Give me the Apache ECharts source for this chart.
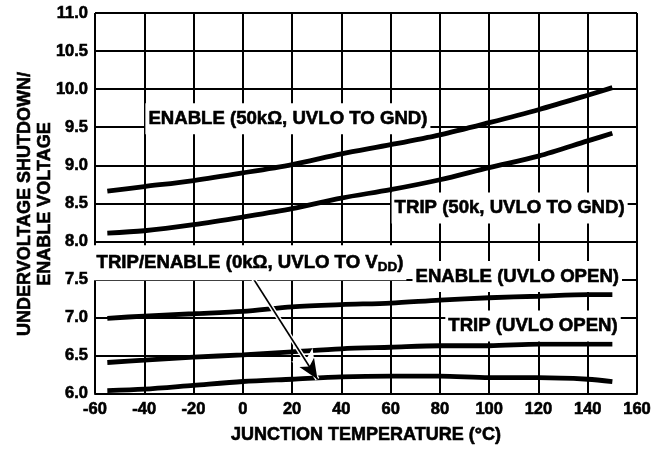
<!DOCTYPE html>
<html>
<head>
<meta charset="utf-8">
<script src="https://cdn.jsdelivr.net/npm/echarts@6/dist/echarts.min.js"></script>
<style>html,body{margin:0;padding:0;background:#fff;}#c{width:667px;height:449px;}</style>
</head>
<body>
<div id="c"></div>
<script>
// Data
var temps = [-55, -40, -20, 0, 20, 40, 60, 80, 100, 120, 140, 150];
var enable50k = [8.66, 8.72, 8.80, 8.90, 9.01, 9.15, 9.27, 9.40, 9.56, 9.73, 9.92, 10.02];
var trip50k = [8.11, 8.14, 8.22, 8.32, 8.43, 8.57, 8.68, 8.81, 8.97, 9.12, 9.32, 9.42];
var enableOpen = [6.99, 7.02, 7.05, 7.08, 7.14, 7.17, 7.19, 7.23, 7.26, 7.28, 7.30, 7.30];
var tripOpen = [6.41, 6.44, 6.48, 6.51, 6.55, 6.59, 6.61, 6.63, 6.63, 6.65, 6.65, 6.65];
var tripEnable0k = [6.04, 6.06, 6.11, 6.16, 6.19, 6.22, 6.23, 6.23, 6.21, 6.21, 6.19, 6.16];

var seriesNames = ['ENABLE (50kΩ, UVLO TO GND)', 'TRIP (50k, UVLO TO GND)', 'ENABLE (UVLO OPEN)', 'TRIP (UVLO OPEN)', 'TRIP/ENABLE (0kΩ, UVLO TO V{sub|DD})'];
var seriesValues = [enable50k, trip50k, enableOpen, tripOpen, tripEnable0k];
// label anchor points (data coordinates)
var labelAnchors = [[18.3, 9.61], [108.3, 8.44], [111.4, 7.54], [117.8, 6.89], [2.9, 7.72]];
var arrowFrom = [4.1, 7.52];
var arrowTo = [30.3, 6.19];

var xTitle = 'JUNCTION TEMPERATURE (°C)';
var yTitle = 'UNDERVOLTAGE SHUTDOWN/\nENABLE VOLTAGE';

var FONT = '"Liberation Sans", Arial, sans-serif';

function pairs(vals) {
  return temps.map(function (t, i) { return [t, vals[i]]; });
}

var series = seriesValues.map(function (vals, i) {
  var s = {
    type: 'line',
    name: seriesNames[i],
    data: pairs(vals),
    showSymbol: false,
    smooth: 0.3,
    lineStyle: { color: '#000', width: 4.8 },
    z: 3,
    markPoint: {
      symbol: 'rect',
      symbolSize: 0,
      silent: true,
      label: {
        show: true,
        position: 'inside',
        formatter: seriesNames[i],
        color: '#000',
        fontFamily: FONT,
        fontWeight: 'bold',
        fontSize: 18.6,
        textBorderColor: '#000', textBorderWidth: 0.6,
        backgroundColor: '#fff',
        padding: [6, 3, 6, 3],
        rich: {
          sub: { fontFamily: FONT, fontWeight: 'bold', fontSize: 13.5, padding: [9, 0, 0, 0], color: '#000',
            textBorderColor: '#000', textBorderWidth: 0.5 }
        }
      },
      data: [{ coord: labelAnchors[i] }]
    }
  };
  if (i === 4) {
    s.markLine = {
      silent: true,
      symbol: ['none', 'arrow'],
      symbolSize: [14, 22],
      label: { show: false },
      animation: false,
      data: [
        [{ coord: arrowFrom, lineStyle: { color: '#fff', width: 4.5, type: 'solid' } },
         { coord: arrowTo, symbolSize: [19, 27], symbolOffset: [0, 2] }],
        [{ coord: arrowFrom, lineStyle: { color: '#000', width: 1.6, type: 'solid' } },
         { coord: arrowTo, symbolSize: [13, 20] }]
      ]
    };
  }
  return s;
});

var chart = echarts.init(document.getElementById('c'), null, { renderer: 'canvas' });
chart.setOption({
  animation: false,
  backgroundColor: '#fff',
  grid: { left: 95, right: 30, top: 13, bottom: 55, show: false },
  xAxis: {
    type: 'value', min: -60, max: 160, interval: 20,
    name: xTitle, nameLocation: 'middle', nameGap: 32,
    nameTextStyle: { fontFamily: FONT, fontWeight: 'bold', fontSize: 18, color: '#000',
      textBorderColor: '#000', textBorderWidth: 0.6 },
    axisLine: { show: true, lineStyle: { color: '#000', width: 2 } },
    axisTick: { show: false },
    axisLabel: { fontFamily: FONT, fontWeight: 'bold', fontSize: 16.5, color: '#000', margin: 7,
      textBorderColor: '#000', textBorderWidth: 0.6 },
    splitLine: { show: true, lineStyle: { color: '#000', width: 2 } }
  },
  yAxis: {
    type: 'value', min: 6, max: 11, interval: 0.5,
    axisLine: { show: true, lineStyle: { color: '#000', width: 2 } },
    axisTick: { show: false },
    axisLabel: { fontFamily: FONT, fontWeight: 'bold', fontSize: 16.5, color: '#000', margin: 7,
      textBorderColor: '#000', textBorderWidth: 0.6,
      formatter: function (v) { return v.toFixed(1); } },
    splitLine: { show: true, lineStyle: { color: '#000', width: 2 } }
  },
  graphic: [{
    type: 'text',
    x: 35, y: 204,
    rotation: Math.PI / 2,
    style: {
      text: yTitle,
      fontFamily: FONT, fontWeight: 'bold', fontSize: 18,
      fill: '#000', stroke: '#000', lineWidth: 0.6,
      align: 'center', verticalAlign: 'middle', lineHeight: 20
    }
  }],
  series: series
});
</script>
</body>
</html>
